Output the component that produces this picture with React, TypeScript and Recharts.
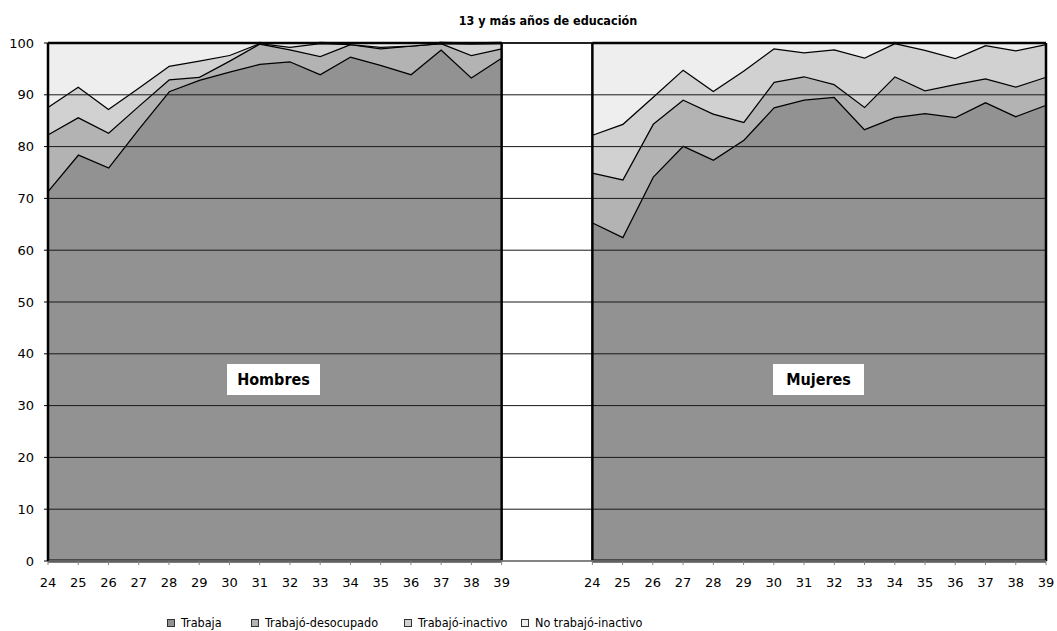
import React from "react";
import {
  AreaChart,
  Area,
  XAxis,
  YAxis,
  CartesianGrid,
  ReferenceLine
} from "recharts";

// ages shown under each panel
const ages = [24, 25, 26, 27, 28, 29, 30, 31, 32, 33, 34, 35, 36, 37, 38, 39];
const yTicks = [0, 10, 20, 30, 40, 50, 60, 70, 80, 90, 100];

// Hombres (percent, stacked to 100)
const hombresTrabaja = [71.5, 78.5, 76.0, 83.5, 90.7, 92.9, 94.5, 96.0, 96.5, 94.0, 97.4, 95.8, 94.0, 98.8, 93.4, 97.2];
const hombresDesocupado = [10.9, 7.2, 6.7, 4.4, 2.3, 0.6, 2.1, 3.9, 2.3, 3.5, 2.4, 3.2, 5.5, 1.2, 4.3, 1.8];
const hombresInactivo = [5.3, 5.9, 4.6, 3.5, 2.6, 3.1, 1.1, 0.1, 0.5, 2.5, 0.0, 0.3, 0.0, 0.0, 2.2, 1.0];
const hombresNoTrabajo = [12.3, 8.4, 12.7, 8.6, 4.4, 3.4, 2.3, 0.0, 0.7, 0.0, 0.2, 0.7, 0.5, 0.0, 0.1, 0.0];

// Mujeres
const mujeresTrabaja = [65.4, 62.6, 74.2, 80.2, 77.5, 81.3, 87.6, 89.1, 89.6, 83.4, 85.7, 86.5, 85.7, 88.6, 85.9, 88.1];
const mujeresDesocupado = [9.6, 11.1, 10.2, 8.9, 8.9, 3.5, 4.9, 4.5, 2.5, 4.3, 7.9, 4.4, 6.4, 4.6, 5.7, 5.4];
const mujeresInactivo = [7.3, 10.7, 5.2, 5.8, 4.4, 9.9, 6.5, 4.6, 6.7, 9.5, 6.4, 7.8, 5.0, 6.4, 7.0, 6.3];
const mujeresNoTrabajo = [17.7, 15.6, 10.4, 5.1, 9.2, 5.3, 1.0, 1.8, 1.2, 2.8, 0.0, 1.3, 2.9, 0.4, 1.4, 0.2];

const GAP = 3; // empty categories between the two panels
const OFFSET = ages.length - 1 + GAP;
const X_MAX = OFFSET + ages.length - 1;

const menRows = ages.map((age, i) => ({
  x: i,
  trabaja: hombresTrabaja[i],
  desocupado: hombresDesocupado[i],
  inactivo: hombresInactivo[i],
  noTrabajo: hombresNoTrabajo[i]
}));

const womenRows = ages.map((age, i) => ({
  x: i + OFFSET,
  trabaja: mujeresTrabaja[i],
  desocupado: mujeresDesocupado[i],
  inactivo: mujeresInactivo[i],
  noTrabajo: mujeresNoTrabajo[i]
}));

const xTicks = [...menRows.map(r => r.x), ...womenRows.map(r => r.x)];
const ageLabel = (v: number) => String(v < ages.length ? ages[v] : ages[v - OFFSET]);

const SERIES = [
  { key: "trabaja", name: "Trabaja", color: "#929292" },
  { key: "desocupado", name: "Trabajó-desocupado", color: "#b3b3b3" },
  { key: "inactivo", name: "Trabajó-inactivo", color: "#d1d1d1" },
  { key: "noTrabajo", name: "No trabajó-inactivo", color: "#eeeeee" }
];

const W = 1057;
const H = 631;
const Y_WIDTH = 48;
const X_HEIGHT = 30;
const MARGIN = { top: 43, right: 11, bottom: 40, left: 0 };
// same plot box for the layers that draw no axes
const BARE_MARGIN = { top: 43, right: 11, bottom: 40 + X_HEIGHT, left: Y_WIDTH };
const FONT = "'DejaVu Sans', sans-serif";
const NARROW = "'DejaVu Sans Condensed', 'DejaVu Sans', sans-serif";

const layer: React.CSSProperties = { position: "absolute", left: 0, top: 0 };

function PanelAreas({ rows }: { rows: any[] }) {
  return (
    <AreaChart width={W} height={H} data={rows} margin={BARE_MARGIN}>
      <XAxis dataKey="x" type="number" domain={[0, X_MAX]} hide />
      <YAxis domain={[0, 100]} hide />
      {SERIES.map(s => (
        <Area
          key={s.key}
          type="linear"
          dataKey={s.key}
          stackId="a"
          fill={s.color}
          fillOpacity={1}
          stroke="#000"
          strokeWidth={2.5}
          dot={false}
          activeDot={false}
          isAnimationActive={false}
        />
      ))}
    </AreaChart>
  );
}

export default function App() {
  const menEnd = menRows[menRows.length - 1].x;
  const womenStart = womenRows[0].x;
  const womenEnd = womenRows[womenRows.length - 1].x;

  return (
    <div style={{ position: "fixed", left: 0, top: 0, width: W, height: H, background: "#fff", fontFamily: FONT, overflow: "hidden" }}>
      <div style={{ position: "absolute", left: 398, top: 13, width: 300, textAlign: "center", fontWeight: "bold", fontSize: 12.5, fontFamily: NARROW }}>
        13 y más años de educación
      </div>

      <div style={layer}><PanelAreas rows={menRows} /></div>
      <div style={layer}><PanelAreas rows={womenRows} /></div>

      {/* grid, axes and panel edges on top */}
      <div style={layer}>
        <AreaChart width={W} height={H} data={menRows} margin={MARGIN}>
          <CartesianGrid vertical={false} stroke="#1a1a1a" strokeWidth={1} />
          <XAxis
            dataKey="x"
            type="number"
            domain={[0, X_MAX]}
            ticks={xTicks}
            tickFormatter={ageLabel}
            interval={0}
            height={X_HEIGHT}
            axisLine={{ stroke: "#808080", strokeWidth: 1.5 }}
            tickLine={{ stroke: "#808080" }}
            tickSize={4}
            tickMargin={13}
            tick={{ fill: "#000", fontSize: 13 }}
          />
          <YAxis
            domain={[0, 100]}
            ticks={yTicks}
            interval={0}
            width={Y_WIDTH}
            axisLine={{ stroke: "#000", strokeWidth: 1.5 }}
            tickLine={{ stroke: "#000" }}
            tickSize={4}
            tickMargin={10}
            tick={{ fill: "#000", fontSize: 13 }}
          />
          {/* invisible series so the axes get their scales */}
          <Area
            type="linear"
            dataKey="trabaja"
            stroke="none"
            fill="none"
            dot={false}
            activeDot={false}
            isAnimationActive={false}
          />
          <ReferenceLine y={100} stroke="#000" strokeWidth={1.5} />
          <ReferenceLine x={0} stroke="#000" strokeWidth={2.5} />
          <ReferenceLine x={menEnd} stroke="#000" strokeWidth={2.5} />
          <ReferenceLine x={womenStart} stroke="#000" strokeWidth={2.5} />
          <ReferenceLine x={womenEnd} stroke="#000" strokeWidth={2.5} />
          <ReferenceLine segment={[{ x: 0, y: 0 }, { x: menEnd, y: 0 }]} stroke="#000" strokeWidth={3} />
          <ReferenceLine segment={[{ x: womenStart, y: 0 }, { x: womenEnd, y: 0 }]} stroke="#000" strokeWidth={3} />
        </AreaChart>
      </div>

      <div style={{ position: "absolute", left: 227, top: 364, width: 93, height: 31, background: "#fff", display: "flex", alignItems: "center", justifyContent: "center", fontWeight: "bold", fontSize: 16, fontFamily: NARROW }}>
        Hombres
      </div>
      <div style={{ position: "absolute", left: 773, top: 364, width: 91, height: 31, background: "#fff", display: "flex", alignItems: "center", justifyContent: "center", fontWeight: "bold", fontSize: 16, fontFamily: NARROW }}>
        Mujeres
      </div>

      {SERIES.map((s, i) => (
        <div key={s.key} style={{ position: "absolute", left: [167, 251, 404, 521][i], top: 615, display: "flex", alignItems: "center", fontSize: 12.5, fontFamily: NARROW, whiteSpace: "nowrap" }}>
          <span style={{ display: "inline-block", width: 6, height: 6, border: "1px solid #333", background: s.color, marginRight: 6 }} />
          {s.name}
        </div>
      ))}
    </div>
  );
}
